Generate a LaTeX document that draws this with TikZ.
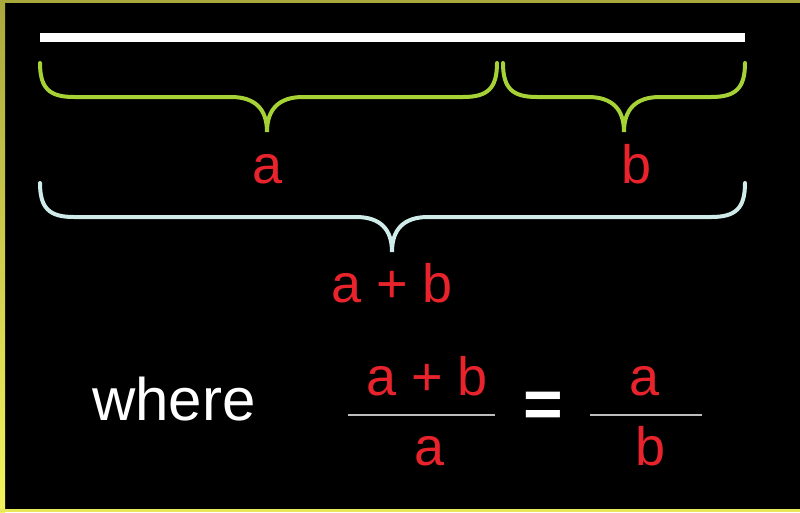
\documentclass[tikz,border=0pt]{standalone}
\usepackage{fontspec}
\setmainfont{Liberation Sans}
\usetikzlibrary{positioning}
\definecolor{RatioRed}{HTML}{E8232B}
\definecolor{RatioGreen}{HTML}{A6D236}
\definecolor{RatioIce}{HTML}{CFEBEA}
\definecolor{RatioRule}{HTML}{BDBDBD}
\definecolor{FrameOlive}{HTML}{A9A83C}
\definecolor{FrameYellow}{HTML}{F4F35E}
\tikzset{lbl/.style={text=RatioRed,font=\fontsize{54}{60}\selectfont,inner sep=0pt,anchor=base},
 word/.style={text=white,font=\fontsize{60}{64}\selectfont,inner sep=0pt,anchor=base},
 brace/.style={line width=4pt,line cap=round},
 fracrule/.style={RatioRule,line width=2pt}}

\begin{document}
\begin{tikzpicture}[x=1pt,y=-1pt]
% background and frame
\fill[black] (0,0) rectangle (800,512);
\fill[FrameOlive] (0,0) rectangle (800,3);
\shade[top color=FrameOlive,bottom color=FrameYellow] (0,0) rectangle (5,512);
\fill[FrameYellow!85!FrameOlive] (0,509) rectangle (800,512);
% the segment
\draw[white,line width=9pt] (40,37)--(745,37);
% braces: left end / tip / right end / top / colour
\foreach \xa/\xm/\xb/\yt/\c in {40/267/497/63/RatioGreen,503/624/745/63/RatioGreen,40/392/745/183/RatioIce}{
 \draw[brace,\c] (\xa,\yt) .. controls (\xa,\yt+26) and (\xa+10,\yt+34) .. (\xa+34,\yt+34)
  -- (\xm-36,\yt+34) .. controls (\xm-12,\yt+34) and (\xm,\yt+46) .. (\xm,\yt+69)
  .. controls (\xm,\yt+46) and (\xm+12,\yt+34) .. (\xm+36,\yt+34)
  -- (\xb-34,\yt+34) .. controls (\xb-10,\yt+34) and (\xb,\yt+26) .. (\xb,\yt);
}
\node[lbl] (la) at (268,183) {a};
\node[lbl] (lb) at (637,183) {b};
\node[lbl] (lab) at (392,302) {a + b};
% the ratio
\node[word] (where) at (174,420) {where};
\node[lbl] (num1) at (427,395) {a + b};
\node[lbl] (den1) at (430,465) {a};
\node[word,font=\fontsize{68}{70}\selectfont\bfseries,anchor=center] (eq) at (543,410) {=};
\node[lbl] (num2) at (645,395) {a};
\node[lbl] (den2) at (651,465) {b};
\draw[fracrule] (348,415)--(495,415);
\draw[fracrule] (590,415)--(702,415);
\end{tikzpicture}
\end{document}
